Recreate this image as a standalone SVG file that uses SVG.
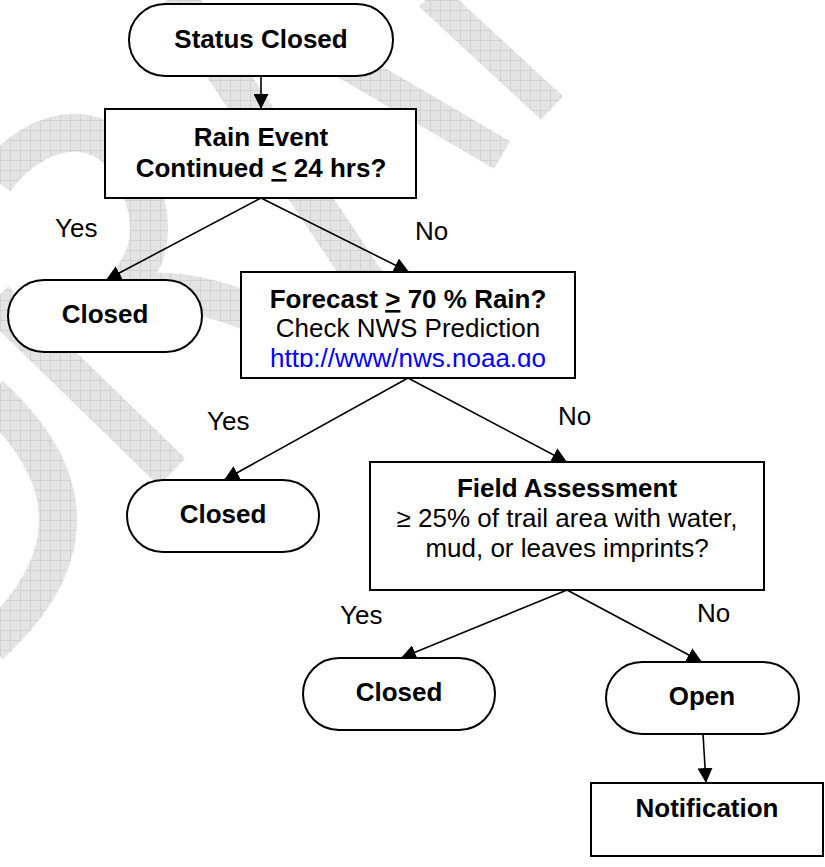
<svg xmlns="http://www.w3.org/2000/svg" width="825" height="867" viewBox="0 0 825 867">
<defs>
<pattern id="wm" patternUnits="userSpaceOnUse" width="10" height="10">
<rect width="10" height="10" fill="#e4e4e4"/>
<path d="M0,0.5 H10 M0.5,0 V10" stroke="#d2d2d2" stroke-width="1"/>
</pattern>
<marker id="arr" markerUnits="userSpaceOnUse" markerWidth="15" markerHeight="15" refX="15" refY="7.5" orient="auto">
<path d="M0,0 L15,7.5 L0,15 z" fill="#000"/>
</marker>
<clipPath id="fc"><rect x="241" y="272" width="334" height="95"/></clipPath>
</defs>
<style>
.wm{fill:none;stroke:url(#wm);stroke-width:38;stroke-linecap:butt}
.box{fill:#fff;stroke:#000;stroke-width:2}
.ln{fill:none;stroke:#000;stroke-width:1.6;marker-end:url(#arr)}
text{font-family:"Liberation Sans",Arial,sans-serif;font-size:26px;fill:#000}
.b{font-weight:bold}
.c{text-anchor:middle}
.link{fill:#0000ff}
</style>
<rect width="825" height="867" fill="#fff"/>
<g id="watermark">
<path class="wm" d="M175,-5 L372,290"/>
<path class="wm" d="M340,60 L502,155" style="stroke-width:32"/>
<path class="wm" d="M430,-5 L552,108" style="stroke-width:32"/>
<path class="wm" d="M-5,180 C40,118 122,108 146,205 C156,245 140,272 118,295"/>
<path class="wm" d="M150,292 C185,290 220,300 250,312"/>
<path class="wm" d="M-10,395 Q126,520 -10,645"/>
<path class="wm" d="M-5,300 L172,472"/>
</g>
<g id="connectors">
<path class="ln" d="M261,76 L261,109"/>
<path class="ln" d="M261,198 L106,280"/>
<path class="ln" d="M261,198 L409,272"/>
<path class="ln" d="M408,378 L224,480"/>
<path class="ln" d="M408,378 L567,462"/>
<path class="ln" d="M567,590 L401,658"/>
<path class="ln" d="M567,590 L702,662"/>
<path class="ln" d="M703,734 L706,783"/>
<text x="55" y="237">Yes</text>
<text x="415" y="240">No</text>
<text x="207" y="430">Yes</text>
<text x="558" y="425">No</text>
<text x="340" y="624">Yes</text>
<text x="697" y="622">No</text>
</g>
<g id="status-closed">
<rect class="box" x="129" y="4" width="264" height="72" rx="36"/>
<text class="b c" x="261" y="48">Status Closed</text>
</g>
<g id="rain-event">
<rect class="box" x="105" y="109" width="311" height="89"/>
<text class="b c" x="261" y="146">Rain Event</text>
<text class="b c" x="261" y="177">Continued <tspan text-decoration="underline">&lt;</tspan> 24 hrs?</text>
</g>
<g id="closed-1">
<rect class="box" x="8" y="280" width="194" height="72" rx="36"/>
<text class="b c" x="105" y="323">Closed</text>
</g>
<g id="forecast">
<rect class="box" x="241" y="272" width="334" height="106"/>
<text class="b c" x="408" y="308">Forecast <tspan text-decoration="underline">&gt;</tspan> 70 % Rain?</text>
<text class="c" x="408" y="337">Check NWS Prediction</text>
<g clip-path="url(#fc)"><text class="c link" x="408" y="367" text-decoration="underline">http://www/nws.noaa.go</text></g>
</g>
<g id="closed-2">
<rect class="box" x="127" y="480" width="192" height="72" rx="36"/>
<text class="b c" x="223" y="523">Closed</text>
</g>
<g id="field-assessment">
<rect class="box" x="370" y="462" width="394" height="128"/>
<text class="b c" x="567" y="497">Field Assessment</text>
<text class="c" x="567" y="527">≥ 25% of trail area with water,</text>
<text class="c" x="567" y="557">mud, or leaves imprints?</text>
</g>
<g id="closed-3">
<rect class="box" x="303" y="658" width="192" height="72" rx="36"/>
<text class="b c" x="399" y="701">Closed</text>
</g>
<g id="open">
<rect class="box" x="606" y="662" width="193" height="72" rx="36"/>
<text class="b c" x="702" y="705">Open</text>
</g>
<g id="notification">
<rect class="box" x="591" y="783" width="232" height="73"/>
<text class="b c" x="707" y="817">Notification</text>
</g>
</svg>
